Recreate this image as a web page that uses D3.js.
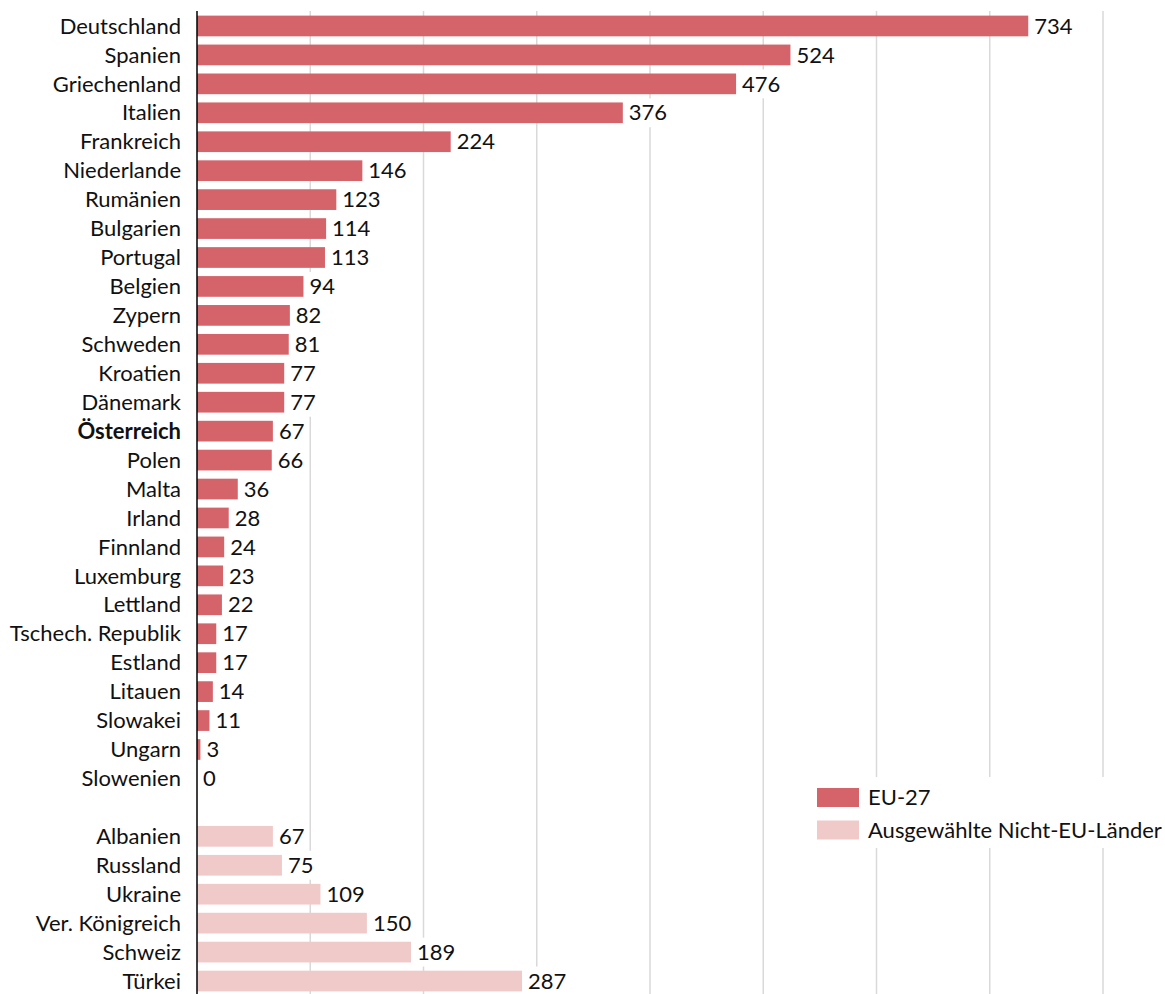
<!DOCTYPE html>
<html>
<head>
<meta charset="utf-8">
<script src="https://cdn.jsdelivr.net/npm/d3@7"></script>
<style>
  html, body { margin: 0; padding: 0; background: #fff; }
  svg { display: block; }
  text { font-family: Lato, "Open Sans", sans-serif; fill: #111; }
</style>
</head>
<body>
<svg id="chart" width="1165" height="994"></svg>
<script>
// EU-27 member states
const euCountries = ["Deutschland", "Spanien", "Griechenland", "Italien", "Frankreich", "Niederlande",
  "Rumänien", "Bulgarien", "Portugal", "Belgien", "Zypern", "Schweden", "Kroatien", "Dänemark",
  "Österreich", "Polen", "Malta", "Irland", "Finnland", "Luxemburg", "Lettland", "Tschech. Republik",
  "Estland", "Litauen", "Slowakei", "Ungarn", "Slowenien"];
const euValues = [734, 524, 476, 376, 224, 146, 123, 114, 113, 94, 82, 81, 77, 77,
  67, 66, 36, 28, 24, 23, 22, 17, 17, 14, 11, 3, 0];

// Selected non-EU countries
const nonEuCountries = ["Albanien", "Russland", "Ukraine", "Ver. Königreich", "Schweiz", "Türkei"];
const nonEuValues = [67, 75, 109, 150, 189, 287];

const xTicks = [0, 100, 200, 300, 400, 500, 600, 700, 800];
const legendLabels = ["EU-27", "Ausgewählte Nicht-EU-Länder"];
const highlighted = "Österreich";

const colorEU = "#d4636a";
const colorNonEU = "#f0c9c9";
const fontSize = 22;

const rows = [
  ...euCountries.map((c, i) => ({ key: c, label: c, value: euValues[i], group: "eu" })),
  { key: "__gap__", label: "", value: null, group: "gap" },
  ...nonEuCountries.map((c, i) => ({ key: c, label: c, value: nonEuValues[i], group: "noneu" }))
];

const svg = d3.select("#chart");

const x = d3.scaleLinear().domain([0, 800]).range([197, 1103]);
const y = d3.scaleBand()
  .domain(rows.map(d => d.key))
  .range([11.5, 995.5])
  .paddingInner(0.285)
  .paddingOuter(0.1425);

// vertical gridlines
svg.append("g")
  .selectAll("line")
  .data(xTicks.slice(1))
  .join("line")
  .attr("x1", d => x(d)).attr("x2", d => x(d))
  .attr("y1", 11).attr("y2", 994)
  .attr("stroke", "#d9d9d9")
  .attr("stroke-width", 1.5);

const data = rows.filter(d => d.group !== "gap");

// bars
svg.append("g")
  .selectAll("rect")
  .data(data)
  .join("rect")
  .attr("x", x(0))
  .attr("y", d => y(d.key))
  .attr("width", d => x(d.value) - x(0))
  .attr("height", y.bandwidth())
  .attr("fill", d => d.group === "eu" ? colorEU : colorNonEU);

// value labels on white boxes
const valueG = svg.append("g");
const labels = valueG.selectAll("g")
  .data(data)
  .join("g")
  .attr("transform", d => `translate(${x(d.value)},${y(d.key) + y.bandwidth() / 2})`);

labels.append("rect").attr("class", "bg")
  .attr("fill", "#fff");

labels.append("text")
  .attr("x", 6)
  .attr("dy", "0.35em")
  .attr("font-size", fontSize)
  .text(d => d.value);

labels.each(function () {
  const g = d3.select(this);
  const w = g.select("text").node().getComputedTextLength();
  g.select("rect.bg")
    .attr("x", 2)
    .attr("y", -y.step() / 2)
    .attr("width", w + 8)
    .attr("height", y.step());
});

// category axis labels
svg.append("g")
  .selectAll("text")
  .data(rows.filter(d => d.label))
  .join("text")
  .attr("x", 181)
  .attr("y", d => y(d.key) + y.bandwidth() / 2)
  .attr("dy", "0.35em")
  .attr("text-anchor", "end")
  .attr("font-size", fontSize)
  .attr("font-weight", d => d.label === highlighted ? "bold" : "normal")
  .text(d => d.label);

// category axis line
svg.append("line")
  .attr("x1", x(0)).attr("x2", x(0))
  .attr("y1", 11).attr("y2", 994)
  .attr("stroke", "#000")
  .attr("stroke-width", 1.5);

// legend
const legend = svg.append("g");
legend.append("rect")
  .attr("x", 806).attr("y", 777)
  .attr("width", 359).attr("height", 71)
  .attr("fill", "#fff");

const legendItems = legend.selectAll("g.item")
  .data(legendLabels)
  .join("g")
  .attr("class", "item")
  .attr("transform", (d, i) => `translate(817,${797.5 + i * 32.5})`);

legendItems.append("rect")
  .attr("x", 0).attr("y", -9.5)
  .attr("width", 42).attr("height", 19)
  .attr("fill", (d, i) => i === 0 ? colorEU : colorNonEU);

legendItems.append("text")
  .attr("x", 51)
  .attr("dy", "0.35em")
  .attr("font-size", fontSize)
  .text(d => d);
</script>
</body>
</html>
